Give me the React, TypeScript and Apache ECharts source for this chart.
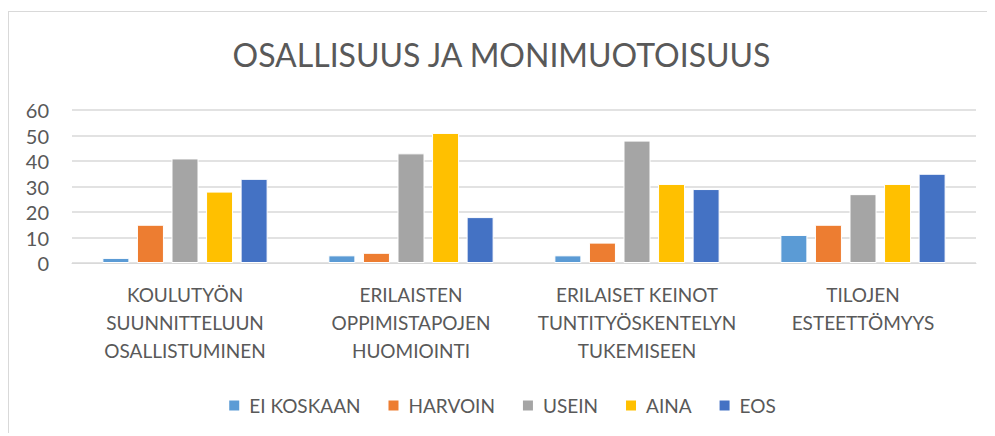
import React, { useEffect, useRef } from "react";
import * as echarts from "echarts";

const title = "OSALLISUUS JA MONIMUOTOISUUS";
const categories = [
  "KOULUTYÖN\nSUUNNITTELUUN\nOSALLISTUMINEN",
  "ERILAISTEN\nOPPIMISTAPOJEN\nHUOMIOINTI",
  "ERILAISET KEINOT\nTUNTITYÖSKENTELYN\nTUKEMISEEN",
  "TILOJEN\nESTEETTÖMYYS",
];
const seriesNames = ["EI KOSKAAN", "HARVOIN", "USEIN", "AINA", "EOS"];
const eiKoskaan = [2, 3, 3, 11];
const harvoin = [15, 4, 8, 15];
const usein = [41, 43, 48, 27];
const aina = [28, 51, 31, 31];
const eos = [33, 18, 29, 35];
const seriesValues = [eiKoskaan, harvoin, usein, aina, eos];
const colors = ["#5B9BD5", "#ED7D31", "#A5A5A5", "#FFC000", "#4472C4"];

const FONT = "Lato, 'Open Sans', sans-serif";
const TXT = "#595959";

export default function App() {
  const ref = useRef<HTMLDivElement>(null);
  useEffect(() => {
    if (!ref.current) return;
    const chart = echarts.init(ref.current, undefined, { renderer: "svg" });
    chart.setOption({
      animation: false,
      backgroundColor: "#fff",
      color: colors,
      title: {
        text: title,
        left: "center",
        top: 25,
        textStyle: { fontFamily: FONT, fontSize: 32, fontWeight: "normal", color: TXT },
      },
      graphic: [
        { type: "line", shape: { x1: 0, y1: 3.5, x2: 995, y2: 3.5 }, style: { stroke: "#D9D9D9", lineWidth: 1 } },
        { type: "line", shape: { x1: 0.5, y1: 3, x2: 0.5, y2: 436 }, style: { stroke: "#D9D9D9", lineWidth: 1 } },
      ],
      legend: {
        data: seriesNames,
        bottom: 13,
        left: "center",
        itemWidth: 12,
        itemHeight: 12,
        itemGap: 26,
        icon: "rect",
        textStyle: { fontFamily: FONT, fontSize: 19, color: TXT, padding: [0, 0, 0, 4] },
      },
      grid: { left: 64, right: 19, top: 102, bottom: 170, containLabel: false },
      xAxis: {
        type: "category",
        data: categories,
        axisLine: { show: true, lineStyle: { color: "#D9D9D9", width: 1 } },
        axisTick: { show: false },
        axisLabel: {
          fontFamily: FONT,
          fontSize: 19,
          color: TXT,
          lineHeight: 28,
          margin: 17,
          interval: 0,
        },
      },
      yAxis: {
        type: "value",
        min: 0,
        max: 60,
        interval: 10,
        axisLine: { show: false },
        axisTick: { show: false },
        splitLine: { lineStyle: { color: "#D9D9D9", width: 1.5 } },
        axisLabel: { fontFamily: FONT, fontSize: 20, color: TXT, margin: 23 },
      },
      series: seriesNames.map((name, i) => ({
        name,
        type: "bar",
        data: seriesValues[i],
        barWidth: 27,
        barGap: "28%",
        itemStyle: { color: colors[i], borderColor: "#fff", borderWidth: 1 },
      })),
    });
    return () => chart.dispose();
  }, []);
  return <div ref={ref} style={{ width: 987, height: 425 }} />;
}
